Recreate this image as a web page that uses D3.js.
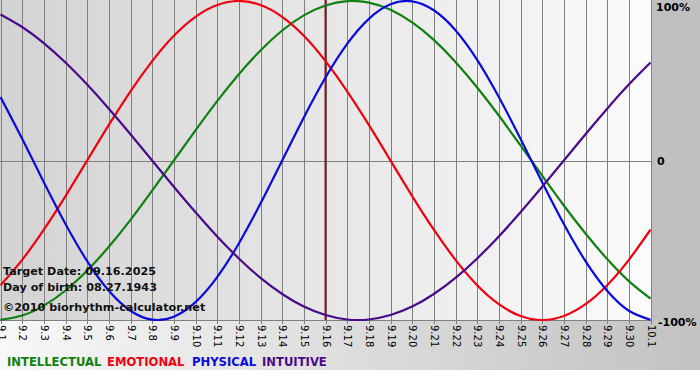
<!DOCTYPE html>
<html><head><meta charset="utf-8">
<script src="https://cdn.jsdelivr.net/npm/d3@7"></script>
<style>
html,body{margin:0;padding:0;background:#fff;}
svg{display:block;}
</style></head>
<body>
<script>
const days = ["9.1","9.2","9.3","9.4","9.5","9.6","9.7","9.8","9.9","9.10","9.11","9.12","9.13","9.14","9.15","9.16","9.17","9.18","9.19","9.20","9.21","9.22","9.23","9.24","9.25","9.26","9.27","9.28","9.29","9.30","10.1"];
const intellectual = [-0.999,-0.972,-0.910,-0.815,-0.690,-0.541,-0.372,-0.189,0.000,0.189,0.372,0.541,0.690,0.815,0.910,0.972,0.999,0.990,0.945,0.866,0.756,0.618,0.458,0.282,0.095,-0.095,-0.282,-0.458,-0.618,-0.756,-0.866];
const emotional = [-0.782,-0.623,-0.434,-0.223,0.000,0.223,0.434,0.623,0.782,0.901,0.975,1.000,0.975,0.901,0.782,0.623,0.434,0.223,0.000,-0.223,-0.434,-0.623,-0.782,-0.901,-0.975,-1.000,-0.975,-0.901,-0.782,-0.623,-0.434];
const physical = [0.398,0.136,-0.136,-0.398,-0.631,-0.817,-0.942,-0.998,-0.979,-0.888,-0.731,-0.520,-0.270,0.000,0.270,0.520,0.731,0.888,0.979,0.998,0.942,0.817,0.631,0.398,0.136,-0.136,-0.398,-0.631,-0.817,-0.942,-0.998];
const intuitive = [0.916,0.837,0.736,0.614,0.476,0.325,0.165,0.000,-0.165,-0.325,-0.476,-0.614,-0.736,-0.837,-0.916,-0.969,-0.997,-0.997,-0.969,-0.916,-0.837,-0.736,-0.614,-0.476,-0.325,-0.165,0.000,0.165,0.325,0.476,0.614];
const seriesNames = ["INTELLECTUAL","EMOTIONAL","PHYSICAL","INTUITIVE"];
const seriesColors = ["#108010","#f00010","#0a0adc","#4a0a8a"];
const yTicks = [1,0,-1];
const yTickLabels = ["100%","0","-100%"];
const targetDay = "9.16";
const infoLines = ["Target Date: 09.16.2025","Day of birth: 08.27.1943","©2010 biorhythm-calculator.net"];

const W=700,H=380;
const svg=d3.select("body").append("svg").attr("width",W).attr("height",H);
const defs=svg.append("defs");
const gOut=defs.append("linearGradient").attr("id","gOut").attr("x1",0).attr("x2",1).attr("y1",0).attr("y2",0);
gOut.append("stop").attr("offset","0%").attr("stop-color","#f8f8f8");
gOut.append("stop").attr("offset","100%").attr("stop-color","#c2c2c2");
const gPlot=defs.append("linearGradient").attr("id","gPlot").attr("x1",0).attr("x2",1).attr("y1",0).attr("y2",0);
gPlot.append("stop").attr("offset","0%").attr("stop-color","#d3d3d3");
gPlot.append("stop").attr("offset","100%").attr("stop-color","#fbfbfb");

svg.append("rect").attr("x",0).attr("y",0).attr("width",W).attr("height",370).attr("fill","#c0c0c0");
svg.append("rect").attr("x",0).attr("y",320).attr("width",W).attr("height",50).attr("fill","url(#gOut)");

const x=d3.scalePoint().domain(days).range([0.5,650.5]);
const y=d3.scaleLinear().domain([-1,1]).range([320,1]);

svg.append("rect").attr("x",0).attr("y",0).attr("width",651).attr("height",320).attr("fill","url(#gPlot)");

svg.append("g").selectAll("line").data(days).join("line")
  .attr("x1",d=>Math.round(x(d))+0.5).attr("x2",d=>Math.round(x(d))+0.5)
  .attr("y1",0).attr("y2",324).attr("stroke","#808080").attr("stroke-width",1);
svg.append("line").attr("x1",0).attr("x2",651).attr("y1",Math.round(y(0))+0.5).attr("y2",Math.round(y(0))+0.5).attr("stroke","#808080");
svg.append("line").attr("x1",0).attr("x2",651).attr("y1",320.5).attr("y2",320.5).attr("stroke","#808080");

svg.append("g").selectAll("text").data(days).join("text")
  .attr("transform",d=>`translate(${Math.round(x(d))-3.5},325) rotate(90)`)
  .attr("font-family","DejaVu Sans, Verdana, sans-serif").attr("font-size",10)
  .attr("fill","#000").text(d=>d);

svg.append("g").selectAll("text").data(yTicks).join("text")
  .attr("x",(d,i)=>i===1?657:(i===0?656:658))
  .attr("y",(d,i)=>i===0?11:(i===2?326:165))
  .attr("font-family","DejaVu Sans, Verdana, sans-serif").attr("font-weight","bold").attr("font-size",11)
  .attr("fill","#000").text((d,i)=>yTickLabels[i]);

const allSeries=[intellectual,emotional,physical,intuitive];
const line=d3.line().x((d,i)=>x(days[i])).y(d=>y(d)).curve(d3.curveNatural);
const clip=defs.append("clipPath").attr("id","clip");
clip.append("rect").attr("x",0).attr("y",0).attr("width",651).attr("height",321);
const gLines=svg.append("g").attr("clip-path","url(#clip)");

gLines.append("line").attr("x1",x(targetDay)).attr("x2",x(targetDay)).attr("y1",0).attr("y2",320)
  .attr("stroke","#7e1c1c").attr("stroke-width",2);

gLines.selectAll("path").data(allSeries).join("path")
  .attr("d",d=>line(d)).attr("fill","none")
  .attr("stroke",(d,i)=>seriesColors[i]).attr("stroke-width",2.2);

svg.append("g").selectAll("text").data(infoLines).join("text")
  .attr("x",3).attr("y",(d,i)=>[275,291,311][i])
  .attr("font-family","DejaVu Sans, Verdana, sans-serif").attr("font-weight","bold").attr("font-size",11.2)
  .attr("fill","#111").text(d=>d);

const legendX=[7,107,192,262];
svg.append("g").selectAll("text").data(seriesNames).join("text")
  .attr("x",(d,i)=>legendX[i]).attr("y",366)
  .attr("font-family","DejaVu Sans, Verdana, sans-serif").attr("font-weight","bold").attr("font-size",11.6)
  .attr("fill",(d,i)=>seriesColors[i]).text(d=>d);
</script>
</body></html>
